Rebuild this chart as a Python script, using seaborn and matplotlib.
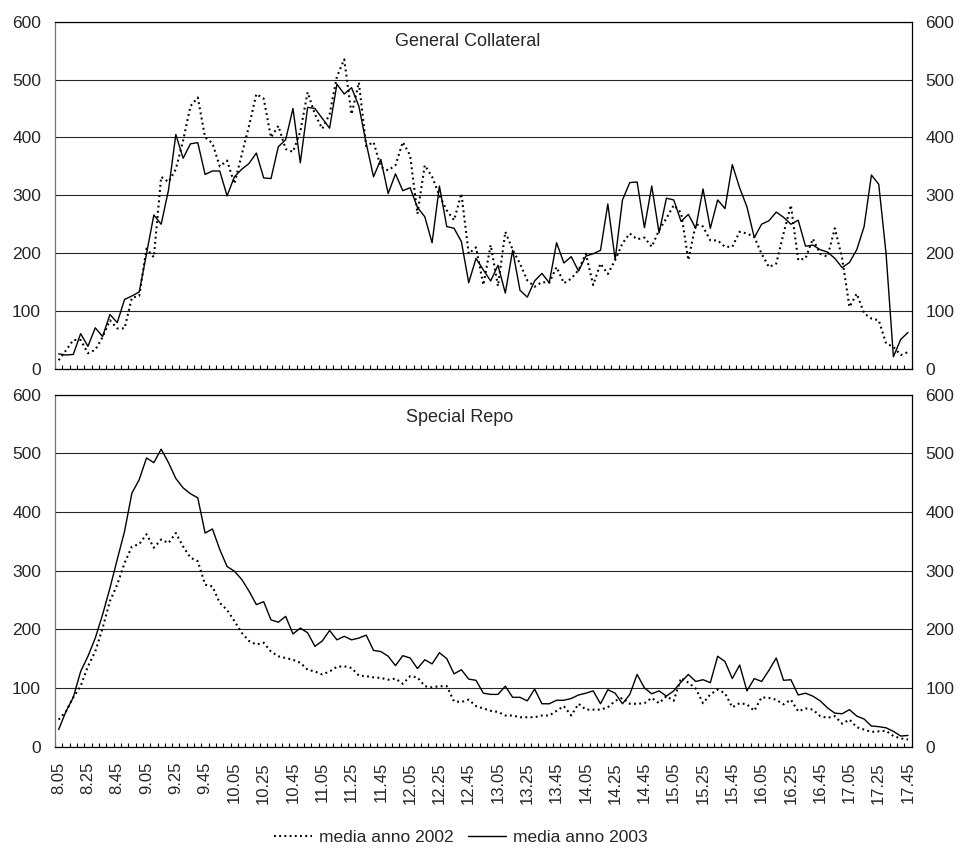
import numpy as np
import matplotlib
matplotlib.use('Agg')
import matplotlib.pyplot as plt
import seaborn as sns

# 5-minute slots, 8.05 .. 17.45
slots = ['%d.%02d' % divmod(m, 60) for m in range(8 * 60 + 5, 17 * 60 + 50, 5)]
tick_labels = ['8.05', '8.25', '8.45', '9.05', '9.25', '9.45', '10.05', '10.25',
               '10.45', '11.05', '11.25', '11.45', '12.05', '12.25', '12.45',
               '13.05', '13.25', '13.45', '14.05', '14.25', '14.45', '15.05',
               '15.25', '15.45', '16.05', '16.25', '16.45', '17.05', '17.25',
               '17.45']

# General Collateral
gc_2002 = [15, 32, 50, 50, 27, 33, 55, 84, 70, 70, 123, 126, 208, 193, 332, 323,
           345, 395, 454, 469, 400, 390, 350, 360, 320, 370, 420, 475, 467, 400,
           420, 380, 375, 410, 478, 440, 415, 440, 505, 535, 440, 495, 385, 392,
           349, 343, 352, 392, 369, 268, 352, 332, 300, 274, 257, 303, 199, 210,
           145, 214, 143, 237, 206, 182, 153, 142, 150, 149, 176, 148, 156, 171,
           199, 145, 182, 164, 188, 217, 234, 224, 227, 211, 240, 260, 283, 270,
           188, 250, 246, 222, 222, 211, 211, 237, 234, 228, 199, 176, 182, 234,
           283, 188, 191, 225, 199, 194, 243, 191, 107, 130, 96, 87, 84, 44, 38,
           24, 29]
gc_2003 = [26, 24, 25, 61, 39, 71, 56, 94, 80, 120, 126, 133, 199, 266, 250, 309,
           405, 364, 389, 391, 336, 342, 342, 299, 332, 345, 355, 373, 330, 329,
           384, 396, 450, 356, 452, 450, 433, 416, 492, 475, 486, 454, 390, 332,
           362, 303, 337, 308, 313, 279, 263, 218, 316, 246, 243, 220, 149, 191,
           171, 152, 179, 131, 205, 136, 124, 152, 165, 149, 218, 183, 194, 169,
           195, 199, 205, 285, 189, 292, 322, 323, 244, 316, 235, 295, 292, 255,
           267, 243, 311, 243, 292, 277, 353, 313, 280, 227, 250, 256, 271, 262,
           250, 257, 212, 214, 206, 202, 191, 175, 184, 206, 246, 335, 319, 199,
           21, 51, 63]

# Special Repo
sr_2002 = [46, 60, 84, 103, 137, 162, 202, 248, 276, 313, 341, 345, 362, 339, 353,
           347, 364, 341, 322, 316, 276, 273, 245, 233, 214, 194, 180, 174, 177,
           162, 154, 151, 148, 143, 131, 128, 123, 128, 136, 137, 134, 121, 120,
           118, 117, 114, 116, 107, 120, 118, 103, 101, 103, 103, 77, 76, 80, 69,
           65, 61, 59, 53, 53, 50, 50, 50, 53, 53, 61, 69, 53, 73, 63, 63, 63, 67,
           78, 83, 73, 73, 74, 83, 74, 86, 78, 117, 109, 99, 74, 89, 97, 91, 67,
           74, 72, 61, 84, 83, 80, 72, 80, 60, 65, 63, 52, 49, 52, 39, 46, 33, 29,
           25, 26, 27, 18, 14, 12]
sr_2003 = [29, 60, 84, 128, 154, 185, 225, 270, 319, 367, 432, 455, 492, 484, 507,
           484, 457, 441, 431, 424, 364, 371, 336, 307, 299, 285, 265, 242, 247,
           216, 212, 222, 192, 202, 194, 171, 180, 198, 182, 188, 182, 185, 190,
           164, 162, 154, 138, 155, 151, 133, 148, 141, 160, 150, 124, 131, 115,
           113, 91, 89, 89, 103, 84, 84, 78, 98, 73, 73, 79, 79, 82, 88, 91, 95,
           73, 97, 91, 73, 89, 123, 100, 90, 95, 86, 95, 110, 123, 111, 114, 109,
           154, 145, 116, 139, 95, 116, 111, 130, 151, 113, 114, 88, 91, 86, 78,
           66, 57, 56, 63, 52, 47, 35, 34, 32, 26, 18, 19]

series_labels = ['media anno 2002', 'media anno 2003']
panel_titles = ['General Collateral', 'Special Repo']

sns.set_theme(style='white')
plt.rcParams['font.family'] = ['Liberation Sans', 'DejaVu Sans']

W, H = 962, 852
fig = plt.figure(figsize=(W / 100, H / 100), dpi=100)
ax1 = fig.add_axes([55 / W, 483.1 / H, 856.7 / W, 347.2 / H])
ax2 = fig.add_axes([55 / W, 105.4 / H, 856.7 / W, 352.0 / H])

x = np.arange(len(slots))


def draw_panel(ax, y02, y03, title, title_pos, show_labels):
    sns.lineplot(x=x, y=y02, ax=ax, color='black', linewidth=1.5,
                 linestyle=(0, (0.9, 1.6)), label=series_labels[0])
    sns.lineplot(x=x, y=y03, ax=ax, color='black', linewidth=1.0,
                 label=series_labels[1])
    if ax.get_legend() is not None:
        ax.get_legend().remove()

    ax.set_xlim(-0.5, len(slots) - 0.5)
    ax.set_ylim(0, 600)
    ax.set_yticks(range(0, 601, 100))
    ax.yaxis.grid(True, color='0.15', linewidth=0.8)
    ax.xaxis.grid(False)
    ax.set_xlabel('')
    ax.set_ylabel('')

    # category boundary ticks, pointing inward
    ax.set_xticks(np.arange(-0.5, len(slots), 1), minor=True)
    ax.set_xticks(np.arange(0, len(slots), 4))
    if show_labels:
        ax.set_xticklabels(tick_labels, rotation=90, va='top', ha='center')
    else:
        ax.set_xticklabels([])
    ax.tick_params(axis='x', which='major', length=0, pad=11, labelsize=12)
    ax.tick_params(axis='x', which='minor', direction='in', length=3.2,
                   width=0.8, color='black', bottom=True)
    ax.tick_params(axis='y', length=0, pad=10, labelsize=12.5,
                   labelleft=True, labelright=True)

    for side in ['top', 'right', 'bottom']:
        ax.spines[side].set_color('black')
        ax.spines[side].set_linewidth(0.9)
    ax.spines['left'].set_color('0.45')
    ax.spines['left'].set_linewidth(0.9)

    ax.text(title_pos[0], title_pos[1], title, transform=ax.transAxes,
            ha='center', va='center', fontsize=13)


draw_panel(ax1, gc_2002, gc_2003, panel_titles[0], (0.482, 0.944), False)
draw_panel(ax2, sr_2002, sr_2003, panel_titles[1], (0.4726, 0.936), True)

handles = ax2.get_lines()[:2]
fig.legend(handles, series_labels, loc='center',
           bbox_to_anchor=(461 / W, 1 - 837 / H), ncol=2, frameon=False,
           fontsize=12.5, handlelength=2.2, columnspacing=0.8,
           handletextpad=0.4)

fig.savefig('out.png', dpi=100)
